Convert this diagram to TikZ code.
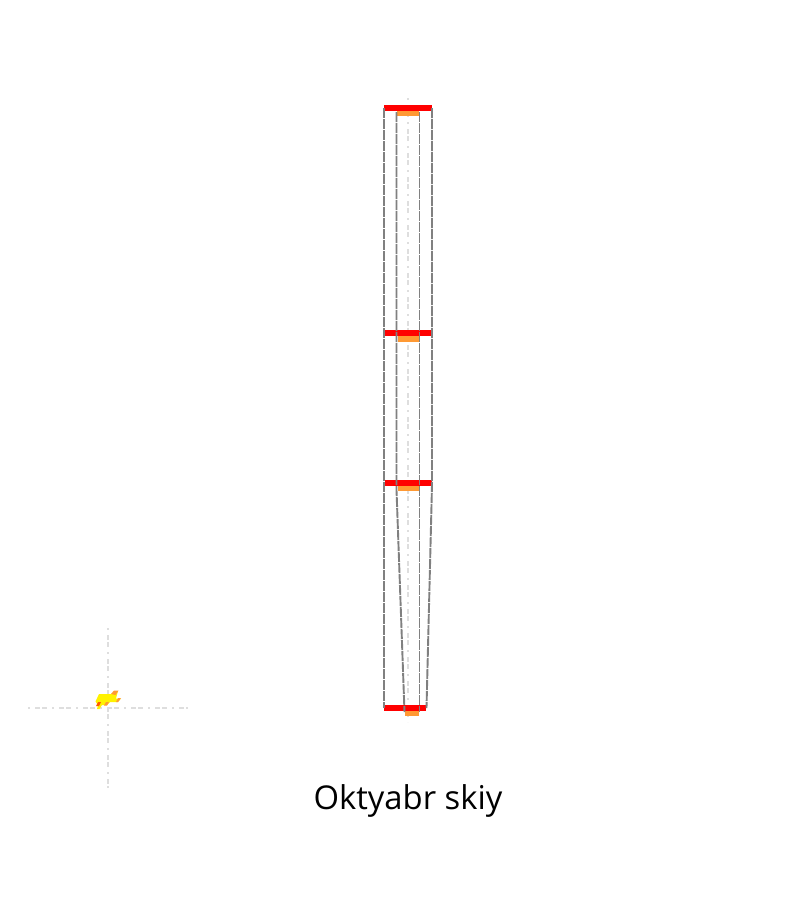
\documentclass[tikz,border=0pt]{standalone}
\usepackage{fontspec}
\setmainfont{Open Sans}
\definecolor{paleorange}{RGB}{255,153,51}
\begin{document}
\begin{tikzpicture}[x=1pt,y=-1pt,
  redbar/.style={fill=red,draw=none},
  orangebar/.style={fill=paleorange,draw=none},
  wall/.style={draw=black!50,line width=1.9pt,dash pattern=on 10pt off 1pt},
  axisline/.style={draw=black!13,line width=1.9pt,dash pattern=on 2pt off 5pt on 5pt off 2pt on 5pt off 5pt}]
\useasboundingbox (0,0) rectangle (800,900);
\draw[axisline] (408,98) -- (408,722);
\fill[redbar] (384,104.8) rectangle (432,110.8);
\fill[redbar] (385,329.8) rectangle (431.5,335.8);
\fill[redbar] (385,479.8) rectangle (431.5,485.8);
\fill[redbar] (384,704.8) rectangle (426,711);
\fill[orangebar] (397,110.8) rectangle (419,116);
\fill[orangebar] (398,335.8) rectangle (418.5,341.5);
\fill[orangebar] (397.5,485.8) rectangle (419,491);
\fill[orangebar] (405,711) rectangle (419,716);
\draw[wall] (384,108) -- (384,708);
\draw[wall] (396.5,112) -- (396.5,490) -- (404.5,712);
\draw[wall] (419.5,112) -- (419.5,712);
\draw[wall] (432,108) -- (432,485) -- (426.5,708);
\draw[axisline] (28,708) -- (188,708);
\draw[axisline] (108,628) -- (108,788);
\fill[yellow] (99,694) -- (111.5,694) -- (115,691) -- (118,691) -- (116,698.5) -- (121,698.5) -- (118,702) -- (110,702) -- (107,705) -- (102,705) -- (99.5,709) -- (97,709) -- (98,705) -- (95.5,701.5) -- cycle;
\fill[paleorange] (111,694) -- (114,690.5) -- (118.5,690.5) -- (115.5,695) -- cycle;
\fill[paleorange] (118,698) -- (121,698) -- (118,702) -- (116,702) -- cycle;
\fill[orange!70!red] (98,702) -- (101,702) -- (99,706) -- (96,706) -- cycle;
\fill[paleorange] (106,702) -- (109,702) -- (107,705.5) -- (104,705.5) -- cycle;
\node[font=\fontsize{32.8pt}{38pt}\selectfont,anchor=center,inner sep=0pt] (title) at (408,800.5) {Oktyabr skiy};
\end{tikzpicture}
\end{document}
